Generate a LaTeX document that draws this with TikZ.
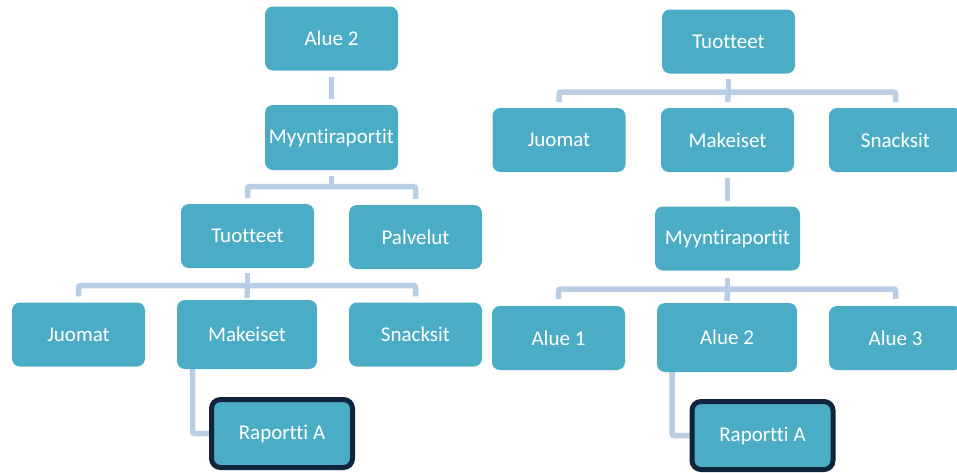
\documentclass[tikz,border=0pt]{standalone}
\usepackage{fontspec}
\setmainfont{Carlito}[Ligatures={NoCommon}]
\usetikzlibrary{backgrounds}
\definecolor{boxfill}{HTML}{4BACC6}
\definecolor{linkblue}{HTML}{B9CDE5}
\definecolor{navyedge}{HTML}{10243E}
\begin{document}
\begin{tikzpicture}[x=1pt,y=-1pt,
  box/.style={rectangle, rounded corners=8pt, fill=boxfill, text=white,
    font=\fontsize{21}{25}\selectfont, inner sep=0pt,
    minimum width=133pt, minimum height=64pt},
  widebox/.style={box, minimum width=140pt, minimum height=69pt},
  report/.style={box, draw=navyedge, line width=5pt, rounded corners=9pt,
    minimum width=141pt, minimum height=68pt},
  link/.style={draw=linkblue, line width=5.5pt, rounded corners=2pt},
]
\useasboundingbox (0,0) rectangle (957,472);

% left tree: region first
\node[box] (a2L) at (331.5,38.5) {Alue 2};
\node[box, minimum height=65pt] (myL) at (331.5,137.5) {Myyntiraportit};
\node[box] (tuL) at (247.5,236) {Tuotteet};
\node[box] (paL) at (415.5,237) {Palvelut};
\node[box] (juL) at (78.5,334.5) {Juomat};
\node[widebox] (maL) at (247,334.5) {Makeiset};
\node[box] (snL) at (415.5,334.5) {Snacksit};
\node[report] (raL) at (282,433.5) {Raportti A};

% right tree: products first
\node[box] (tuR) at (728.5,41.5) {Tuotteet};
\node[box] (juR) at (559,140) {Juomat};
\node[box] (maR) at (727.5,140) {Makeiset};
\node[box] (snR) at (895.5,140) {Snacksit};
\node[box, minimum width=145pt] (myR) at (727.5,238.5) {Myyntiraportit};
\node[box] (a1R) at (558.5,338) {Alue 1};
\node[widebox] (a2R) at (727,337.5) {Alue 2};
\node[box] (a3R) at (895.5,338) {Alue 3};
\node[report] (raR) at (762.5,435.5) {Raportti A};

% junction points of the branching connectors
\coordinate (busL1) at (331.5,186.5);
\coordinate (busL2) at (247.5,285.5);
\coordinate (busR1) at (728.5,92);
\coordinate (busR2) at (727.5,289);

\begin{scope}[on background layer]
  % left tree
  \draw[link] ([yshift=-6pt]a2L.south) -- ([yshift=6pt]myL.north);
  \draw[link] ([yshift=-6pt]myL.south) -- (busL1);
  \draw[link] ([yshift=6pt]tuL.north) |- (busL1) -| ([yshift=6pt]paL.north);
  \draw[link] ([yshift=-5pt]tuL.south) -- (busL2);
  \draw[link] ([yshift=6pt]juL.north) |- (busL2) -| ([yshift=6pt]snL.north);
  \draw[link] (busL2) -- ([yshift=2pt]maL.north);
  \draw[link] ([xshift=-54.5pt]maL.south) |- (raL.west);
  % right tree
  \draw[link] ([yshift=-5pt]tuR.south) -- (busR1);
  \draw[link] ([yshift=6pt]juR.north) |- (busR1) -| ([yshift=6pt]snR.north);
  \draw[link] (busR1) -- ([yshift=6pt]maR.north);
  \draw[link] ([yshift=-6pt]maR.south) -- ([yshift=5pt]myR.north);
  \draw[link] ([yshift=-7pt]myR.south) -- (busR2);
  \draw[link] ([yshift=7pt]a1R.north) |- (busR2) -| ([yshift=7pt]a3R.north);
  \draw[link] (busR2) -- ([yshift=2pt]a2R.north);
  \draw[link] ([xshift=-55pt]a2R.south) |- (raR.west);
\end{scope}
\end{tikzpicture}
\end{document}
